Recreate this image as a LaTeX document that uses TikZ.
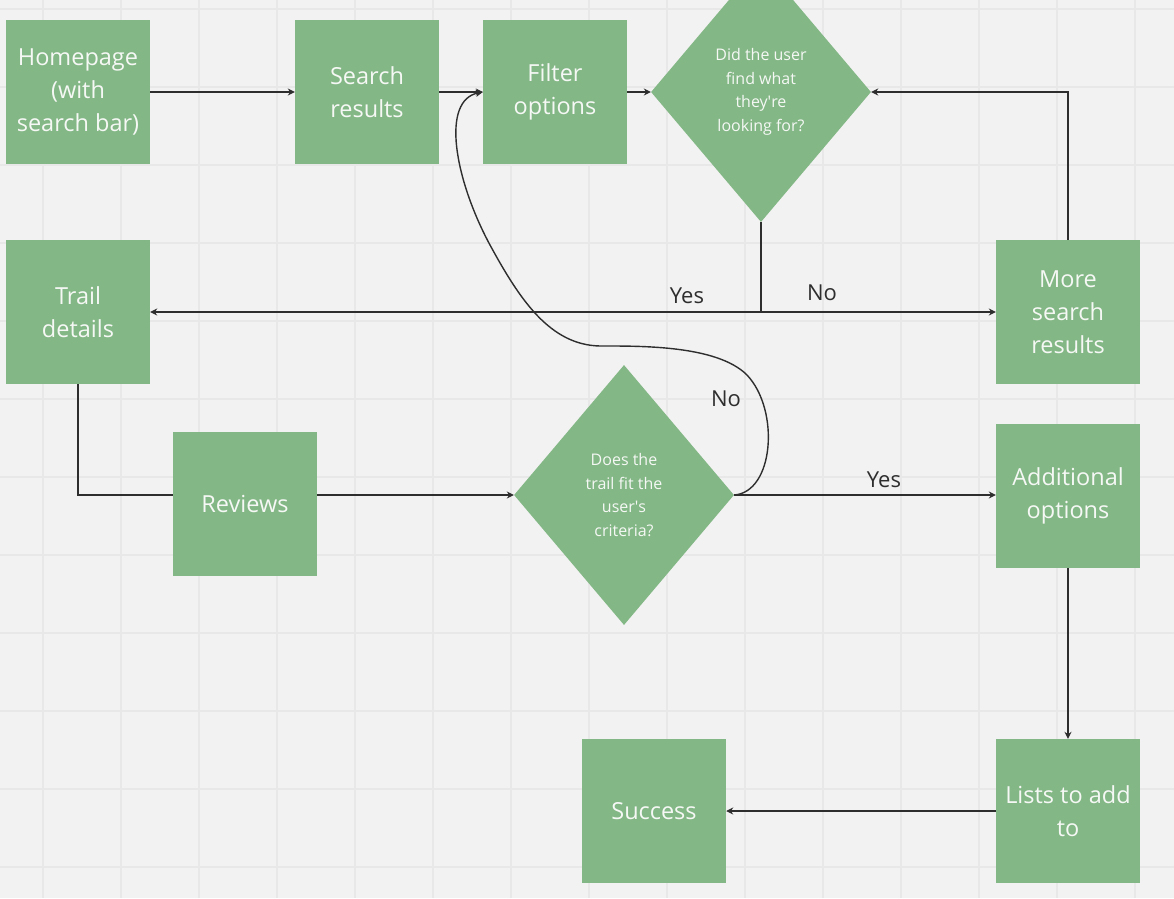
\documentclass[tikz,border=0pt]{standalone}
\usepackage{fontspec}
\setmainfont{Open Sans}
\usetikzlibrary{shapes.geometric,arrows.meta,calc}
\definecolor{bg}{HTML}{F2F2F2}
\definecolor{gridc}{HTML}{E8E8E8}
\definecolor{boxg}{HTML}{83B785}
\definecolor{linec}{HTML}{2E2E2E}
\definecolor{txtw}{HTML}{F5F8F5}
\begin{document}
\begin{tikzpicture}[x=1pt,y=-1pt,
 box/.style={rectangle,fill=boxg,minimum width=144pt,minimum height=144pt,inner sep=0pt,align=center,text=txtw,font=\fontsize{23.5}{33}\selectfont},
 dec/.style={diamond,fill=boxg,minimum width=220pt,minimum height=260pt,aspect=0.846,inner sep=0pt,align=center,text=txtw,font=\fontsize{16}{23.5}\selectfont},
 conn/.style={draw=linec,line width=1.4pt},
 arr/.style={conn,-{Stealth[length=7pt,width=7pt]}},
 lbl/.style={text=linec,font=\fontsize{22}{26}\selectfont,inner sep=0pt}]
\useasboundingbox (0,0) rectangle (1174,898);
\clip (0,0) rectangle (1174,898);
\fill[bg] (0,0) rectangle (1174,898);
\foreach \x in {43,121,...,1135} \draw[gridc,line width=1.3pt] (\x,0) -- (\x,898);
\foreach \y in {9,87,...,867} \draw[gridc,line width=1.3pt] (0,\y) -- (1174,\y);

\node[box] (home) at (78,92) {Homepage\\(with\\search bar)};
\node[box] (search) at (367,92) {Search\\results};
\node[box] (filter) at (555,92) {Filter\\options};
\node[dec] (d1) at (761,92) {Did the user\\find what\\they\textquotesingle re\\looking for?};
\node[box] (trail) at (78,312) {Trail\\details};
\node[box] (more) at (1068,312) {More\\search\\results};
\node[box] (reviews) at (245,504) {Reviews};
\node[dec] (d2) at (624,495) {Does the\\trail fit the\\user\textquotesingle s\\criteria?};
\node[box] (addl) at (1068,496) {Additional\\options};
\node[box] (lists) at (1068,811) {Lists to add\\to};
\node[box] (success) at (654,811) {Success};

\coordinate (split) at (d1.south |- trail.east);

\draw[arr] (home.east) -- (search.west);
\draw[arr] (search.east) -- (filter.west);
\draw[arr] (filter.east) -- (d1.west);
\draw[conn] (d1.south) -- (split);
\draw[arr] (split) -- (trail.east);
\draw[arr] (split) -- (more.west);
\draw[arr] (more.north) |- (d1.east);
\draw[conn] (trail.south) |- (reviews.west |- d2.west);
\draw[arr] (reviews.east |- d2.west) -- (d2.west);
\draw[arr] (d2.east) -- (addl.west |- d2.east);
\draw[arr] (addl.south) -- (lists.north);
\draw[arr] (lists.west) -- (success.east);
\draw[arr] (d2.east) .. controls (774,492) and (780,410) .. (747,375)
  .. controls (717,345) and (640,346) .. (600,346)
  .. controls (550,345) and (520,300) .. (490,245)
  .. controls (455,180) and (440,100) .. (filter.west);

\node[lbl] (l1) at (687,296) {Yes};
\node[lbl] (l2) at (822,293) {No};
\node[lbl] (l3) at (726,399) {No};
\node[lbl] (l4) at (884,480) {Yes};
\end{tikzpicture}
\end{document}
